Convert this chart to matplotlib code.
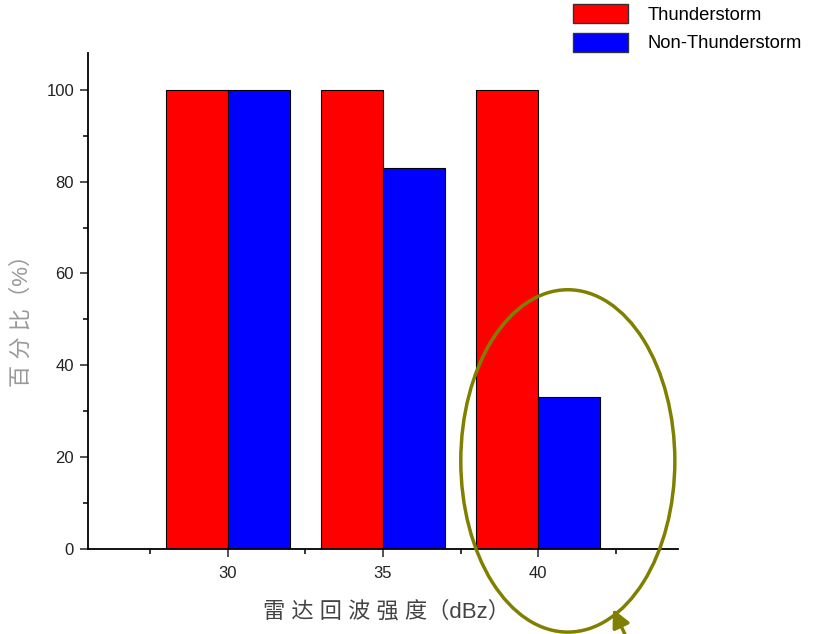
import matplotlib
matplotlib.use("Agg")
import matplotlib.pyplot as plt
from matplotlib.patches import Ellipse, Patch
from matplotlib.ticker import MultipleLocator, FixedLocator

plt.rcParams['font.family'] = ['Liberation Sans', 'Noto Sans CJK SC', 'DejaVu Sans']

# data
intensity = [30, 35, 40]
thunder = [100, 100, 100]
non_thunder = [100, 83, 33]
series_names = ["Thunderstorm", "Non-Thunderstorm"]

fig = plt.figure(figsize=(8.17, 6.34), dpi=100)
ax = fig.add_axes([0.1077, 0.134, 0.7223, 0.7824])

bw = 2
ax.bar([x - bw for x in intensity], thunder, width=bw, align='edge',
       color='#ff0000', edgecolor='black', linewidth=0.8)
ax.bar(intensity, non_thunder, width=bw, align='edge',
       color='#0000ff', edgecolor='black', linewidth=0.8)

ax.set_xlim(25.5, 44.5)
ax.set_ylim(0, 108)
ax.spines['top'].set_visible(False)
ax.spines['right'].set_visible(False)
ax.spines['left'].set_linewidth(1.3)
ax.spines['bottom'].set_linewidth(1.3)

ax.set_xticks(intensity)
ax.xaxis.set_minor_locator(FixedLocator([27.5, 32.5, 37.5, 42.5]))
ax.yaxis.set_major_locator(MultipleLocator(20))
ax.yaxis.set_minor_locator(MultipleLocator(10))
ax.tick_params(axis='both', which='major', direction='out', length=6, width=1.1,
               labelsize=12, colors='#222222')
ax.tick_params(axis='both', which='minor', direction='out', length=3.5, width=1.1)
ax.tick_params(axis='x', which='major', pad=6)
ax.tick_params(axis='y', which='major', pad=4)

lab_fonts = ['Liberation Sans', 'Noto Sans CJK SC', 'DejaVu Sans']
fig.text(0.473, 0.035, "雷 达 回 波 强 度（dBz）", ha='center', va='center',
         fontsize=16, color='#444444', family=lab_fonts)
fig.text(0.027, 0.502, "百 分 比（%）", ha='center', va='center', fontsize=16, rotation=90,
         color='#999999', family=lab_fonts)

# legend outside the axes, top right
handles = [Patch(facecolor='#ff0000', edgecolor='#333333'),
           Patch(facecolor='#0000ff', edgecolor='#333333')]
fig.legend(handles, series_names, loc='upper left', bbox_to_anchor=(573 / 817, 1 - 4 / 634),
           frameon=False, fontsize=13.2, handlelength=3.0, handleheight=1.2,
           handletextpad=1.05, labelspacing=0.5, borderpad=0, borderaxespad=0)

# olive highlight ellipse and arrow
ell = Ellipse((0.695, 0.273), 0.262, 0.54, transform=fig.transFigure,
              fill=False, edgecolor='#808000', linewidth=2.5, clip_on=False)
fig.patches.append(ell)
ax.annotate("", xy=(0.7503, 0.0394), xytext=(0.771, -0.017), xycoords='figure fraction',
            textcoords='figure fraction',
            arrowprops=dict(arrowstyle='-|>,head_length=0.6,head_width=0.3', color='#808000',
                            lw=2.5, mutation_scale=18, shrinkA=0, shrinkB=0))

fig.savefig("out.png", dpi=100)
